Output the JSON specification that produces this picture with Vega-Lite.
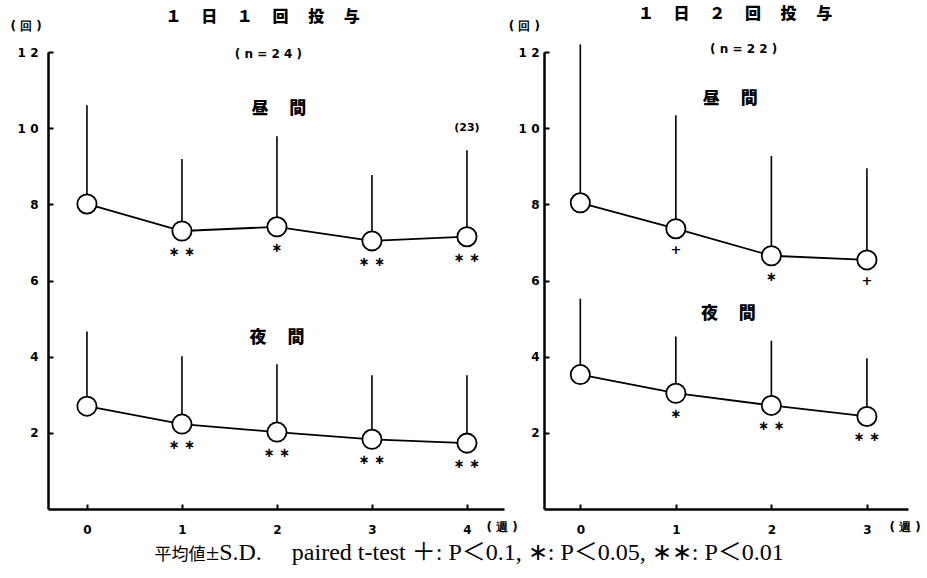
{
  "$schema": "https://vega.github.io/schema/vega-lite/v6.json",
  "autosize": {"type": "pad"},
  "padding": {"left": 10, "top": 5, "right": 0, "bottom": 0},
  "background": "white",
  "config": {
    "view": {"stroke": null},
    "axis": {
      "domainColor": "black", "domainWidth": 2.5, "tickColor": "black", "tickWidth": 2,
      "tickSize": -5, "grid": false, "title": null, "labelColor": "black",
      "labelFont": "DejaVu Sans", "labelFontWeight": "bold", "labelFontSize": 12, "labelFlush": false
    }
  },
  "datasets": {
    "points": [
      {"panel": "L", "series": "昼間", "week": 0, "mean": 8.01, "upper": 10.6, "sig": ""},
      {"panel": "L", "series": "昼間", "week": 1, "mean": 7.30, "upper": 9.19, "sig": "∗ ∗"},
      {"panel": "L", "series": "昼間", "week": 2, "mean": 7.41, "upper": 9.79, "sig": "∗"},
      {"panel": "L", "series": "昼間", "week": 3, "mean": 7.04, "upper": 8.77, "sig": "∗ ∗"},
      {"panel": "L", "series": "昼間", "week": 4, "mean": 7.15, "upper": 9.42, "sig": "∗ ∗"},
      {"panel": "L", "series": "夜間", "week": 0, "mean": 2.70, "upper": 4.66, "sig": ""},
      {"panel": "L", "series": "夜間", "week": 1, "mean": 2.23, "upper": 4.01, "sig": "∗ ∗"},
      {"panel": "L", "series": "夜間", "week": 2, "mean": 2.02, "upper": 3.80, "sig": "∗ ∗"},
      {"panel": "L", "series": "夜間", "week": 3, "mean": 1.83, "upper": 3.51, "sig": "∗ ∗"},
      {"panel": "L", "series": "夜間", "week": 4, "mean": 1.73, "upper": 3.51, "sig": "∗ ∗"},
      {"panel": "R", "series": "昼間", "week": 0, "mean": 8.04, "upper": 12.2, "sig": ""},
      {"panel": "R", "series": "昼間", "week": 1, "mean": 7.36, "upper": 10.34, "sig": "+"},
      {"panel": "R", "series": "昼間", "week": 2, "mean": 6.65, "upper": 9.27, "sig": "∗"},
      {"panel": "R", "series": "昼間", "week": 3, "mean": 6.54, "upper": 8.95, "sig": "+"},
      {"panel": "R", "series": "夜間", "week": 0, "mean": 3.53, "upper": 5.52, "sig": ""},
      {"panel": "R", "series": "夜間", "week": 1, "mean": 3.04, "upper": 4.53, "sig": "∗"},
      {"panel": "R", "series": "夜間", "week": 2, "mean": 2.72, "upper": 4.42, "sig": "∗ ∗"},
      {"panel": "R", "series": "夜間", "week": 3, "mean": 2.43, "upper": 3.96, "sig": "∗ ∗"}
    ],
    "labels": [
      {"panel": "L", "kind": "title", "x": 1.85, "y": 12.92, "text": "１　 日　 １　 回　 投　 与"},
      {"panel": "L", "kind": "n", "x": 1.91, "y": 11.95, "text": "( n = 2 4 )"},
      {"panel": "L", "kind": "series", "x": 2.02, "y": 10.5, "text": "昼　 間"},
      {"panel": "L", "kind": "series", "x": 2.0, "y": 4.49, "text": "夜　 間"},
      {"panel": "L", "kind": "small", "x": 4.0, "y": 10.0, "text": "(23)"},
      {"panel": "L", "kind": "unit", "x": -0.64, "y": 12.68, "text": "( 回 )"},
      {"panel": "L", "kind": "unit", "x": 4.37, "y": -0.47, "text": "( 週 )"},
      {"panel": "L", "kind": "captionjp", "x": 0.98, "y": -1.33, "text": "平均値"},
      {"panel": "L", "kind": "caption", "x": 1.253, "y": -1.33, "text": "±S.D.　 paired t-test ＋: P＜0.1, ∗: P＜0.05, ∗∗: P＜0.01"},
      {"panel": "R", "kind": "title", "x": 1.62, "y": 13.0, "text": "１　 日　 ２　 回　 投　 与"},
      {"panel": "R", "kind": "n", "x": 1.71, "y": 12.08, "text": "( n = 2 2 )"},
      {"panel": "R", "kind": "series", "x": 1.57, "y": 10.77, "text": "昼　 間"},
      {"panel": "R", "kind": "series", "x": 1.55, "y": 5.12, "text": "夜　 間"},
      {"panel": "R", "kind": "unit", "x": -0.585, "y": 12.68, "text": "( 回 )"},
      {"panel": "R", "kind": "unit", "x": 3.40, "y": -0.47, "text": "( 週 )"}
    ]
  },
  "hconcat": [
    {
      "width": 456, "height": 457,
      "layer": [
        {
          "data": {"name": "points"},
          "transform": [{"filter": "datum.panel == 'L'"}],
          "mark": {"type": "rule", "color": "black", "strokeWidth": 1.6},
          "encoding": {
            "x": {"field": "week", "type": "quantitative", "scale": {"domain": [-0.41, 4.39], "nice": false, "zero": false}, "axis": {"values": [0, 1, 2, 3, 4], "format": "d", "labelPadding": 20, "domainWidth": 2.5}},
            "y": {"field": "mean", "type": "quantitative", "scale": {"domain": [0, 12], "nice": false}, "axis": {"values": [2, 4, 6, 8, 10, 12], "labelPadding": 15, "domainWidth": 2.5, "labelExpr": "datum.value == 12 ? '1 2' : datum.value == 10 ? '1 0' : datum.label"}},
            "y2": {"field": "upper"}
          }
        },
        {
          "data": {"name": "points"},
          "transform": [{"filter": "datum.panel == 'L'"}],
          "mark": {"type": "line", "color": "black", "strokeWidth": 1.8},
          "encoding": {
            "x": {"field": "week", "type": "quantitative"},
            "y": {"field": "mean", "type": "quantitative"},
            "detail": {"field": "series"}
          }
        },
        {
          "data": {"name": "points"},
          "transform": [{"filter": "datum.panel == 'L'"}],
          "mark": {"type": "circle", "fill": "white", "stroke": "black", "strokeWidth": 1.8, "opacity": 1, "fillOpacity": 1, "size": 370},
          "encoding": {
            "x": {"field": "week", "type": "quantitative"},
            "y": {"field": "mean", "type": "quantitative"}
          }
        },
        {
          "data": {"name": "points"},
          "transform": [{"filter": "datum.panel == 'L'"}],
          "mark": {"type": "text", "dy": 21, "baseline": "middle", "font": "DejaVu Sans", "fontWeight": "bold", "fontSize": 13, "color": "black"},
          "encoding": {
            "x": {"field": "week", "type": "quantitative"},
            "y": {"field": "mean", "type": "quantitative"},
            "text": {"field": "sig"}
          }
        },
        {
          "data": {"name": "labels"},
          "transform": [{"filter": "datum.panel == 'L' && datum.kind == 'title'"}],
          "mark": {"type": "text", "baseline": "middle", "font": "Noto Sans CJK JP", "fontWeight": 900, "fontSize": 16, "color": "black"},
          "encoding": {"x": {"field": "x", "type": "quantitative"}, "y": {"field": "y", "type": "quantitative"}, "text": {"field": "text"}}
        },
        {
          "data": {"name": "labels"},
          "transform": [{"filter": "datum.panel == 'L' && (datum.kind == 'n' || datum.kind == 'unit')"}],
          "mark": {"type": "text", "baseline": "middle", "font": "DejaVu Sans", "fontWeight": "bold", "fontSize": 12, "color": "black"},
          "encoding": {"x": {"field": "x", "type": "quantitative"}, "y": {"field": "y", "type": "quantitative"}, "text": {"field": "text"}}
        },
        {
          "data": {"name": "labels"},
          "transform": [{"filter": "datum.panel == 'L' && datum.kind == 'small'"}],
          "mark": {"type": "text", "baseline": "middle", "font": "DejaVu Sans", "fontWeight": "bold", "fontSize": 11, "color": "black"},
          "encoding": {"x": {"field": "x", "type": "quantitative"}, "y": {"field": "y", "type": "quantitative"}, "text": {"field": "text"}}
        },
        {
          "data": {"name": "labels"},
          "transform": [{"filter": "datum.panel == 'L' && datum.kind == 'series'"}],
          "mark": {"type": "text", "baseline": "middle", "font": "Noto Sans CJK JP", "fontWeight": 900, "fontSize": 17, "color": "black"},
          "encoding": {"x": {"field": "x", "type": "quantitative"}, "y": {"field": "y", "type": "quantitative"}, "text": {"field": "text"}}
        },
        {
          "data": {"name": "labels"},
          "transform": [{"filter": "datum.panel == 'L' && datum.kind == 'captionjp'"}],
          "mark": {"type": "text", "align": "center", "baseline": "alphabetic", "font": "Noto Sans CJK JP", "fontSize": 17, "color": "black"},
          "encoding": {"x": {"field": "x", "type": "quantitative"}, "y": {"field": "y", "type": "quantitative"}, "text": {"field": "text"}}
        },
        {
          "data": {"name": "labels"},
          "transform": [{"filter": "datum.panel == 'L' && datum.kind == 'caption'"}],
          "mark": {"type": "text", "align": "left", "baseline": "alphabetic", "font": "Liberation Serif, Noto Sans CJK JP", "fontSize": 24, "color": "black"},
          "encoding": {"x": {"field": "x", "type": "quantitative"}, "y": {"field": "y", "type": "quantitative"}, "text": {"field": "text"}}
        }
      ]
    },
    {
      "width": 364, "height": 457,
      "layer": [
        {
          "data": {"name": "points"},
          "transform": [{"filter": "datum.panel == 'R'"}],
          "mark": {"type": "rule", "color": "black", "strokeWidth": 1.6},
          "encoding": {
            "x": {"field": "week", "type": "quantitative", "scale": {"domain": [-0.38, 3.43], "nice": false, "zero": false}, "axis": {"values": [0, 1, 2, 3], "format": "d", "labelPadding": 20, "domainWidth": 2.5}},
            "y": {"field": "mean", "type": "quantitative", "scale": {"domain": [0, 12], "nice": false}, "axis": {"values": [2, 4, 6, 8, 10, 12], "labelPadding": 10, "domainWidth": 2.5, "labelExpr": "datum.value == 12 ? '1 2' : datum.value == 10 ? '1 0' : datum.label"}},
            "y2": {"field": "upper"}
          }
        },
        {
          "data": {"name": "points"},
          "transform": [{"filter": "datum.panel == 'R'"}],
          "mark": {"type": "line", "color": "black", "strokeWidth": 1.8},
          "encoding": {
            "x": {"field": "week", "type": "quantitative"},
            "y": {"field": "mean", "type": "quantitative"},
            "detail": {"field": "series"}
          }
        },
        {
          "data": {"name": "points"},
          "transform": [{"filter": "datum.panel == 'R'"}],
          "mark": {"type": "circle", "fill": "white", "stroke": "black", "strokeWidth": 1.8, "opacity": 1, "fillOpacity": 1, "size": 370},
          "encoding": {
            "x": {"field": "week", "type": "quantitative"},
            "y": {"field": "mean", "type": "quantitative"}
          }
        },
        {
          "data": {"name": "points"},
          "transform": [{"filter": "datum.panel == 'R'"}],
          "mark": {"type": "text", "dy": 21, "baseline": "middle", "font": "DejaVu Sans", "fontWeight": "bold", "fontSize": 13, "color": "black"},
          "encoding": {
            "x": {"field": "week", "type": "quantitative"},
            "y": {"field": "mean", "type": "quantitative"},
            "text": {"field": "sig"}
          }
        },
        {
          "data": {"name": "labels"},
          "transform": [{"filter": "datum.panel == 'R' && datum.kind == 'title'"}],
          "mark": {"type": "text", "baseline": "middle", "font": "Noto Sans CJK JP", "fontWeight": 900, "fontSize": 16, "color": "black"},
          "encoding": {"x": {"field": "x", "type": "quantitative"}, "y": {"field": "y", "type": "quantitative"}, "text": {"field": "text"}}
        },
        {
          "data": {"name": "labels"},
          "transform": [{"filter": "datum.panel == 'R' && (datum.kind == 'n' || datum.kind == 'unit')"}],
          "mark": {"type": "text", "baseline": "middle", "font": "DejaVu Sans", "fontWeight": "bold", "fontSize": 12, "color": "black"},
          "encoding": {"x": {"field": "x", "type": "quantitative"}, "y": {"field": "y", "type": "quantitative"}, "text": {"field": "text"}}
        },
        {
          "data": {"name": "labels"},
          "transform": [{"filter": "datum.panel == 'R' && datum.kind == 'series'"}],
          "mark": {"type": "text", "baseline": "middle", "font": "Noto Sans CJK JP", "fontWeight": 900, "fontSize": 17, "color": "black"},
          "encoding": {"x": {"field": "x", "type": "quantitative"}, "y": {"field": "y", "type": "quantitative"}, "text": {"field": "text"}}
        }
      ]
    }
  ],
  "spacing": 40,
  "bounds": "flush"
}
